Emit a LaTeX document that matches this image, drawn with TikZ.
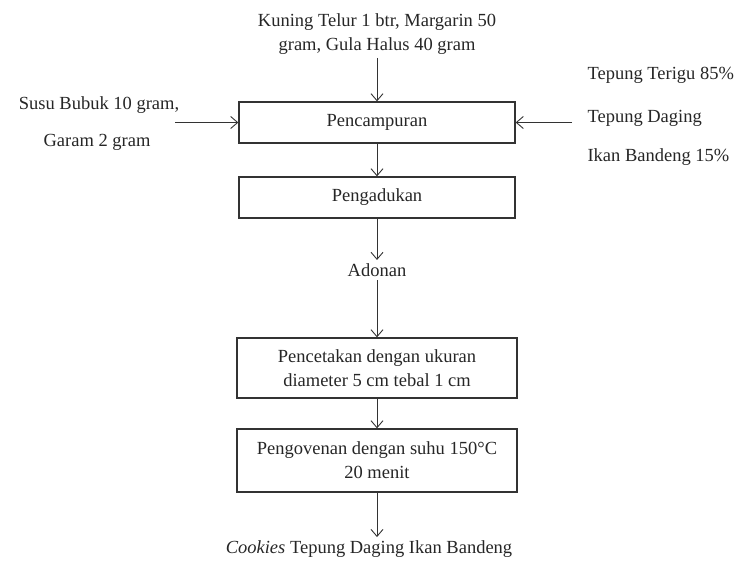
\documentclass[tikz,border=0pt]{standalone}
\usepackage{fontspec}
\setmainfont{Liberation Serif}
\usetikzlibrary{arrows.meta}
\begin{document}
\begin{tikzpicture}[x=1pt,y=-1pt,
	font=\fontsize{18.5}{24}\selectfont, text=black!85,
	proses/.style={draw=black!80, line width=1.3pt, minimum width=276pt, minimum height=41pt, align=center, inner sep=0pt},
	panah/.style={-{Straight Barb[length=7pt,width=12pt]}, line width=0.9pt, draw=black!80}]
	\useasboundingbox (0,0) rectangle (743,569);
	
	\node[align=center] (bahan) at (377,34) {Kuning Telur 1 btr, Margarin 50\\gram, Gula Halus 40 gram};
	\node[proses] (campur) at (377,122.5) {Pencampuran};
	\node[proses] (aduk) at (377,197.5) {Pengadukan};
	\node (adonan) at (377,270) {Adonan};
	\node[proses, minimum width=280pt, minimum height=60pt] (cetak) at (377,368) {Pencetakan dengan ukuran\\diameter 5 cm tebal 1 cm};
	\node[proses, minimum width=280pt, minimum height=63pt] (oven) at (377,460.5) {Pengovenan dengan suhu 150\textdegree C\\20 menit};
	\node (cookies) at (369,549) {\textit{Cookies} Tepung Daging Ikan Bandeng};
	
	\node (susu) at (99,105) {Susu Bubuk 10 gram,};
	\node (garam) at (97,142) {Garam 2 gram};
	\node[anchor=west] (terigu) at (584,75) {Tepung Terigu 85\%};
	\node[anchor=west] (daging) at (584,118) {Tepung Daging};
	\node[anchor=west] (ikan) at (584,157) {Ikan Bandeng 15\%};
	\coordinate (kiri) at (175,122.5);
	\coordinate (kanan) at (572,122.5);
	
	\draw[panah] (bahan.south) -- (campur.north);
	\draw[panah] (kiri) -- (campur.west);
	\draw[panah] (kanan) -- (campur.east);
	\draw[panah] (campur.south) -- (aduk.north);
	\draw[panah] (aduk.south) -- (adonan.north);
	\draw[panah] (adonan.south) -- (cetak.north);
	\draw[panah] (cetak.south) -- (oven.north);
	\draw[panah] (oven.south) -- (oven.south |- cookies.north);
\end{tikzpicture}
\end{document}
